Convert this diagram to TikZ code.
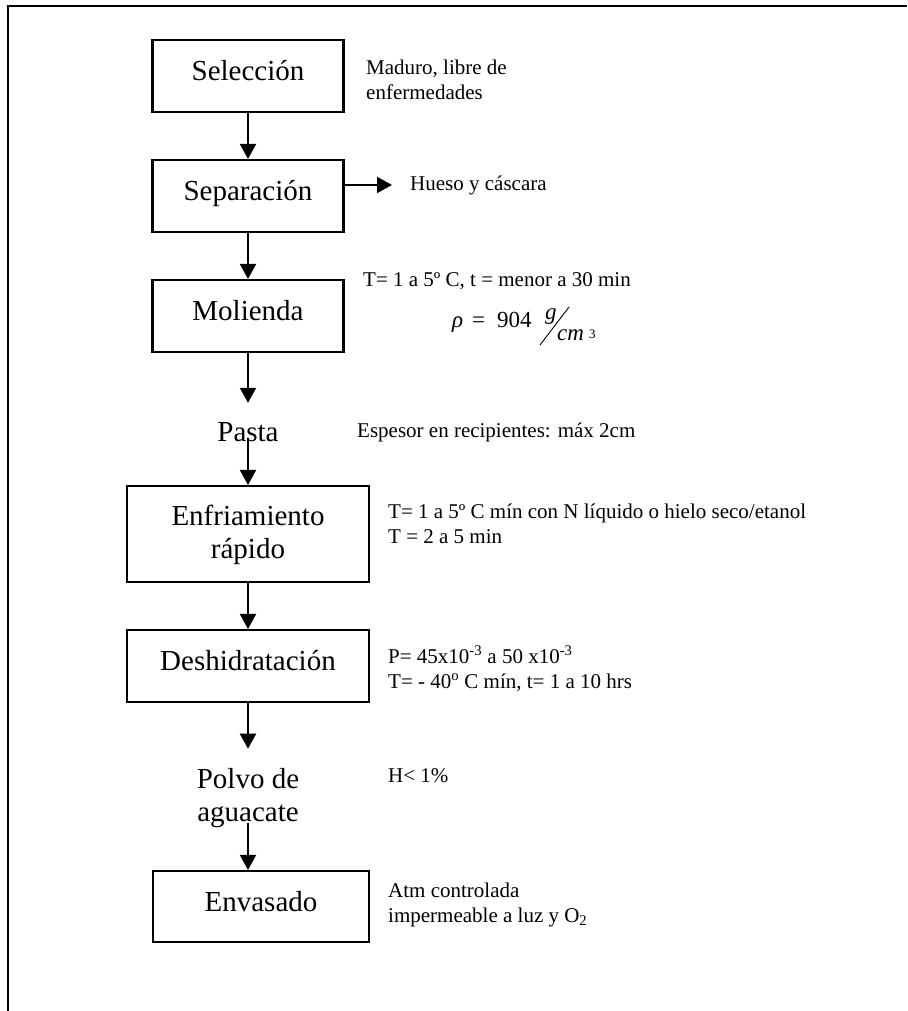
\documentclass[tikz,border=0pt]{standalone}
\usepackage{fontspec}
\setmainfont{Liberation Serif}
\usetikzlibrary{arrows.meta}
\begin{document}
\begin{tikzpicture}[x=1pt,y=-1pt,
  boxfont/.style={font=\fontsize{29}{33}\selectfont},
  procbox/.style={draw, line width=2.1pt, boxfont, inner sep=0pt, text height=20pt, text depth=11pt, anchor=center},
  flowtext/.style={boxfont, inner sep=0pt, anchor=base},
  note/.style={font=\fontsize{21}{25}\selectfont, inner sep=0pt, anchor=base west},
  formula/.style={font=\fontsize{23}{27}\selectfont, inner sep=0pt, anchor=base west},
  arr/.style={line width=2.1pt, -{Triangle[length=15pt,width=16pt]}},
  frameline/.style={line width=2.2pt}
]
\useasboundingbox (0,0) rectangle (907,1011);
% frame
\draw[frameline] (8,1011) -- (8,6);
\draw[frameline, line width=2.8pt] (7,6) -- (907,6);

% process column
\node[procbox, minimum width=191pt, minimum height=72pt] (sel) at (248,76) {Selección};
\node[procbox, minimum width=191pt, minimum height=72pt] (sep) at (248,196) {Separación};
\node[procbox, minimum width=191pt, minimum height=72pt] (mol) at (248,316) {Molienda};
\node[flowtext] (pas) at (248,441) {Pasta};
\node[procbox, minimum width=242pt, minimum height=96pt, text height=20pt, text depth=37pt] (enf) at (248,534)
  {\begin{tabular}[t]{@{}c@{}}Enfriamiento\\rápido\end{tabular}};
\node[procbox, minimum width=242pt, minimum height=72pt] (des) at (248,666) {Deshidratación};
\node[flowtext] (pol) at (248,788) {\begin{tabular}[t]{@{}c@{}}Polvo de\\aguacate\end{tabular}};
\node[procbox, minimum width=216pt, minimum height=71pt] (env) at (261,906.5) {Envasado};

% side notes
\node[note] (n1) at (366,75) {\begin{tabular}[t]{@{}l@{}}Maduro, libre de\\enfermedades\end{tabular}};
\node[note] (hue) at (410,190) {Hueso y cáscara};
\node[note] (n3) at (363,286) {T= 1 a 5º C, t = menor a 30 min};
\node[formula] (rho) at (452,327) {\itshape ρ};
\node[formula] (eq) at (472,327) {=};
\node[formula] (num) at (497,327) {904};
\node[formula] (gg) at (545,319) {\itshape g};
\draw[line width=0.9pt] (540,345) -- (569,307);
\node[formula] (cm) at (557,340) {\itshape cm};
\node[note, font=\fontsize{13}{15}\selectfont] (three) at (589,338) {3};
\node[note] (esp) at (357,437) {Espesor en recipientes: máx 2cm};
\node[note] (n6) at (388,518) {\begin{tabular}[t]{@{}l@{}}T= 1 a 5º C mín con N líquido o hielo seco/etanol\\T = 2 a 5 min\end{tabular}};
\node[note] (n7) at (388,663) {\begin{tabular}[t]{@{}l@{}}P= 45x10\textsuperscript{-3} a 50 x10\textsuperscript{-3}\\T= - 40\textsuperscript{o} C mín, t= 1 a 10 hrs\end{tabular}};
\node[note] (n8) at (388,782) {H< 1\%};
\node[note] (n9) at (388,897) {\begin{tabular}[t]{@{}l@{}}Atm controlada\\impermeable a luz y O\textsubscript{2}\end{tabular}};

% connectors
\draw[arr] (sel.south) -- (sep.north);
\draw[arr] (sep.east |- hue.west) -- ([xshift=-18pt]hue.west);
\draw[arr] (sep.south) -- (mol.north);
\draw[arr] (mol.south) -- ([yshift=19pt]pas.north);
\draw[arr] ([yshift=3pt]pas.base) -- (enf.north);
\draw[arr] (enf.south) -- (des.north);
\draw[arr] (des.south) -- ([yshift=16pt]pol.north);
\draw[arr] ([yshift=8pt]pol.south) -- (pol.south |- env.north);
\end{tikzpicture}
\end{document}
